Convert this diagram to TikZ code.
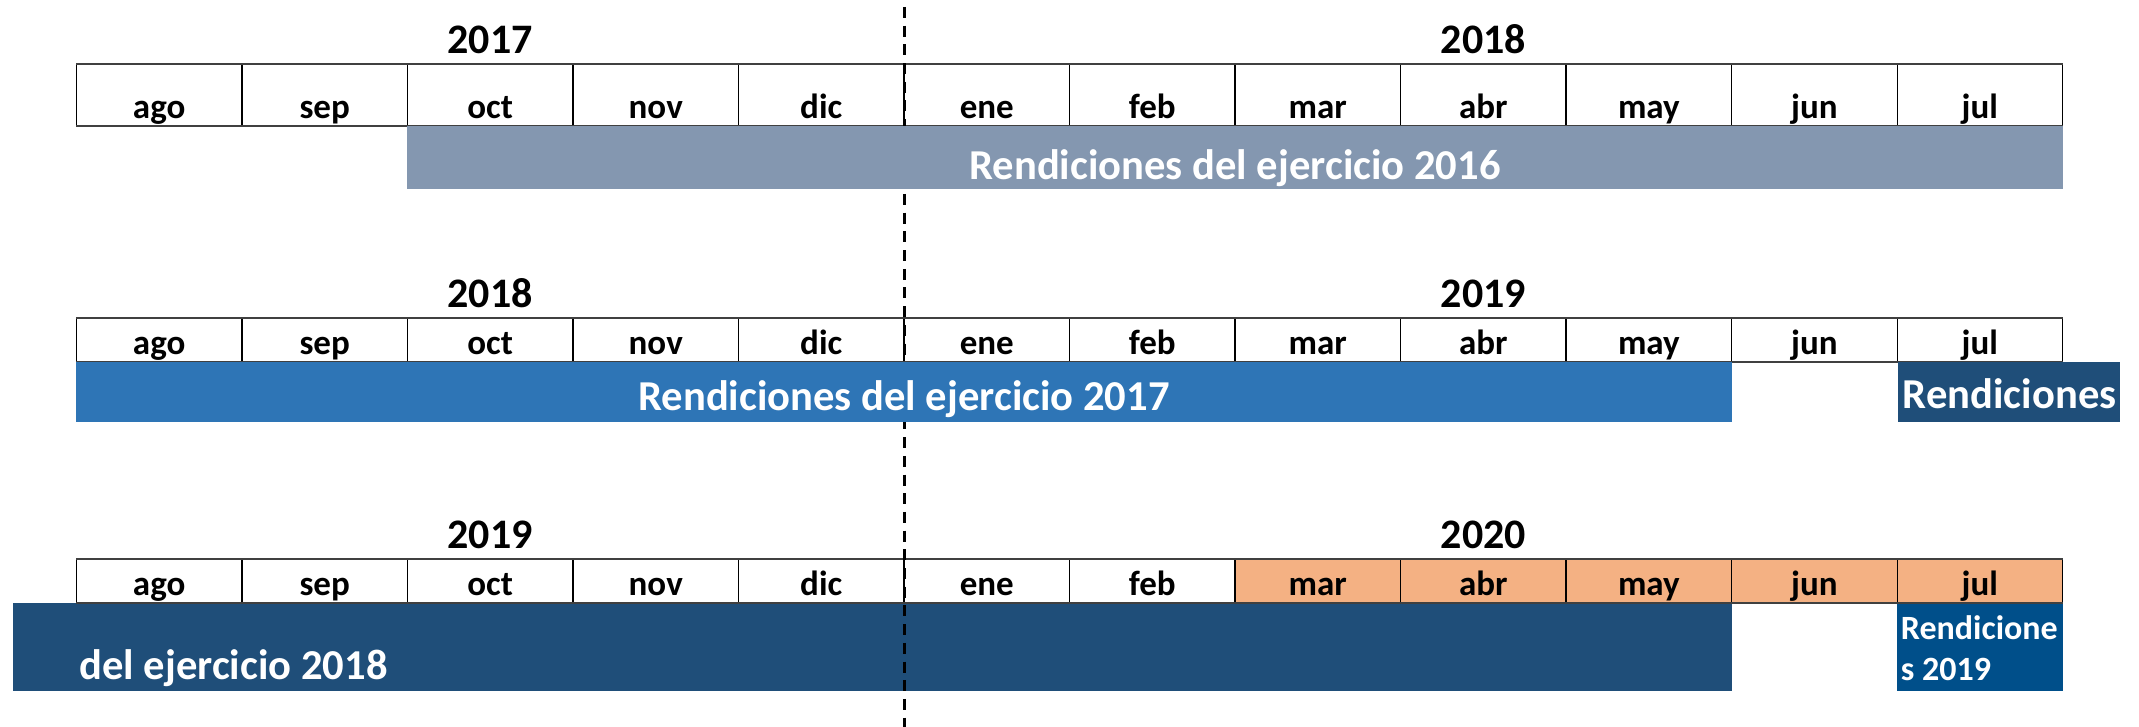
\documentclass[tikz,border=0pt]{standalone}
\usepackage{fontspec}
\setmainfont{Carlito}
\definecolor{barA}{HTML}{8497B0}
\definecolor{barB}{HTML}{2E75B6}
\definecolor{barC}{HTML}{1F4E79}
\definecolor{barD}{HTML}{004F8A}
\definecolor{cellO}{HTML}{F4B183}
\definecolor{ruleC}{HTML}{404040}
\tikzset{
  cell/.style={draw=black, line width=1.2pt, minimum width=165.52pt, inner sep=0pt, outer sep=0pt, anchor=north west},
  mon/.style={font=\fontsize{35}{40}\selectfont\bfseries, inner sep=0pt, anchor=base},
  yr/.style={font=\fontsize{42}{48}\selectfont\bfseries, inner sep=0pt, anchor=base},
  bar/.style={inner sep=0pt, outer sep=0pt, anchor=north west, draw=none},
  bartxt/.style={font=\fontsize{42.6}{48}\selectfont\bfseries, text=white, inner sep=0pt, anchor=base},
  smalltxt/.style={font=\fontsize{34}{41}\selectfont\bfseries, text=white, inner sep=0pt, anchor=base west},
  outer/.style={draw=ruleC, line width=2pt},
  dashline/.style={draw=black, line width=2.7pt, dash pattern=on 11pt off 7.7pt}
}
\begin{document}
\begin{tikzpicture}[x=1pt, y=-1pt]
\useasboundingbox[fill=white] (0,0) rectangle (2139,727);

% ---------- row 3 bar (below dashed line)
\node[bar, fill=barC, minimum width=1719.4pt, minimum height=88pt] (b3) at (12.7,602.7) {};
\node[bartxt, anchor=base west] (t3) at (79.3,679.3) {del ejercicio 2018};
\node[bar, fill=barD, minimum width=165.6pt, minimum height=87.4pt] (b3r) at (1897.3,603.3) {};
\node[smalltxt] (t3a) at (1900.7,639.3) {Rendicione};
\node[smalltxt] (t3b) at (1900.7,680) {s 2019};

% ---------- tables
\foreach \m [count=\i] in {ago,sep,oct,nov,dic,ene,feb,mar,abr,may,jun,jul} {
  \pgfmathsetmacro\xl{76.4+(\i-1)*165.52}
  \ifnum\i>7 \def\fc{cellO}\else\def\fc{white}\fi
  \node[cell, fill=white, minimum height=62pt] (ra\i) at (\xl,64) {};
  \node[mon] (ma\i) at (\xl+82.76,118.5) {\m};
  \node[cell, fill=white, minimum height=44.3pt] (rb\i) at (\xl,318) {};
  \node[mon] (mb\i) at (\xl+82.76,354) {\m};
  \node[cell, fill=\fc, minimum height=44pt] (rc\i) at (\xl,559) {};
  \node[mon] (mc\i) at (\xl+82.76,595) {\m};
}
\foreach \r in {a,b,c} {
  \draw[outer] (r\r1.north west) -- (r\r12.north east);
  \draw[outer] (r\r1.south west) -- (r\r12.south east);
}

% ---------- years
\node[yr] (ya1) at (490.2,53.5) {2017};
\node[yr] (ya2) at (1483.3,53.5) {2018};
\node[yr] (yb1) at (490.2,308) {2018};
\node[yr] (yb2) at (1483.3,308) {2019};
\node[yr] (yc1) at (490.2,548) {2019};
\node[yr] (yc2) at (1483.3,548) {2020};

% ---------- dashed divider
\coordinate (dtop) at (904.2,7);
\coordinate (dbot) at (904.2,727);
\draw[dashline] (dtop) -- (dbot);

% ---------- rows 1 and 2 bars (above dashed line)
\node[bar, fill=barA, minimum width=1655.2pt, minimum height=63pt] (b1) at (407.4,126) {};
\node[bartxt] (t1) at (1235,179.3) {Rendiciones del ejercicio 2016};
\node[bar, fill=barB, minimum width=1655.7pt, minimum height=59.7pt] (b2) at (76.4,362.3) {};
\node[bartxt] (t2) at (904,410) {Rendiciones del ejercicio 2017};
\node[bar, fill=barC, minimum width=222pt, minimum height=59.4pt] (b2r) at (1897.8,362.3) {};
\node[bartxt, anchor=base west] (t2r) at (1902.7,408.3) {Rendiciones};
\end{tikzpicture}
\end{document}
